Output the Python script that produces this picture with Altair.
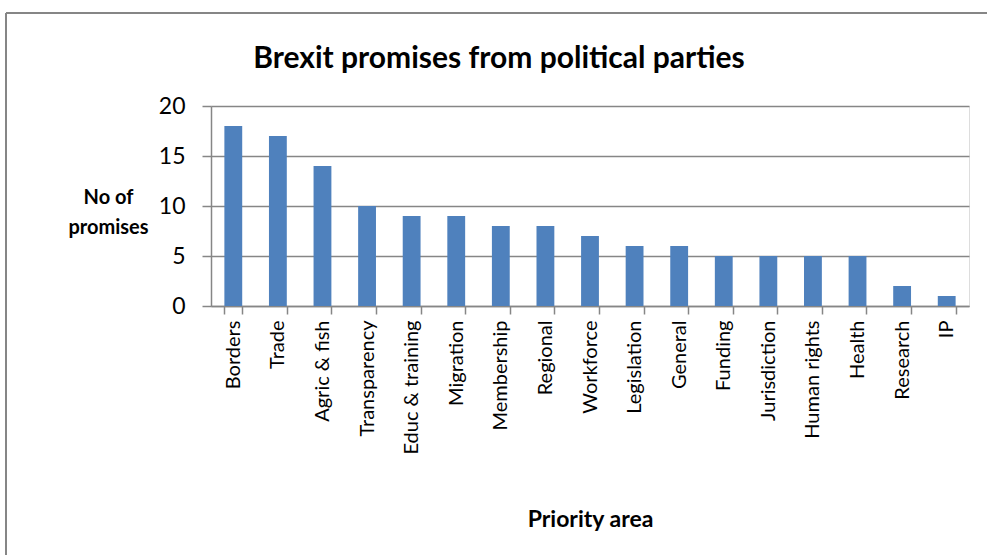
import altair as alt
import pandas as pd

title_text = ["Brexit promises from political parties"]
categories = ["Borders", "Trade", "Agric & fish", "Transparency", "Educ & training",
              "Migration", "Membership", "Regional", "Workforce", "Legislation",
              "General", "Funding", "Jurisdiction", "Human rights", "Health",
              "Research", "IP"]
promises = [18, 17, 14, 10, 9, 9, 8, 8, 7, 6, 6, 5, 5, 5, 5, 2, 1]

df = pd.DataFrame({"area": categories, "n": promises})
tdf = pd.DataFrame({"t": title_text})

FONT = "Lato"
GRAY = "#868686"

bars = alt.Chart(df).mark_bar(color="#4F81BD").encode(
    x=alt.X("area:N", sort=categories,
            scale=alt.Scale(paddingInner=0.6, paddingOuter=0.3),
            axis=alt.Axis(title="Priority area", labelAngle=-90, labelAlign="right",
                          labelBaseline="middle", labelFontSize=20, labelFont=FONT,
                          labelColor="#000000", labelPadding=6,
                          tickBand="extent", tickSize=8, tickColor=GRAY, tickWidth=1.5,
                          domainColor=GRAY, domainWidth=1.5,
                          titleFont=FONT, titleFontSize=23, titleFontWeight="bold",
                          titleColor="#000000", titleY=213, titleBaseline="middle")),
    y=alt.Y("n:Q", scale=alt.Scale(domain=[0, 20], nice=False),
            axis=alt.Axis(title=["No of", "promises"], values=[0, 5, 10, 15, 20],
                          labelFontSize=23, labelFont=FONT, labelColor="#000000",
                          labelPadding=17, tickSize=9, tickColor=GRAY, tickWidth=1.5,
                          domainColor=GRAY, domainWidth=1.5,
                          grid=True, gridColor=GRAY, gridWidth=1.5,
                          titleAngle=0, titleFont=FONT, titleFontSize=20,
                          titleFontWeight="bold", titleColor="#000000",
                          titleX=-103, titleY=91, titleAlign="center",
                          titleBaseline="middle", titleLineHeight=30)),
)

title = alt.Chart(tdf).mark_text(font=FONT, fontSize=30, fontWeight="bold",
                                 color="#000000", align="center",
                                 baseline="alphabetic").encode(
    text="t:N", x=alt.value(288), y=alt.value(-38))

border_top = alt.Chart(tdf).mark_rule(color=GRAY, strokeWidth=2).encode(
    x=alt.value(-205), x2=alt.value(800), y=alt.value(-93))
border_left = alt.Chart(tdf).mark_rule(color=GRAY, strokeWidth=2).encode(
    x=alt.value(-205), y=alt.value(-93), y2=alt.value(460))

chart = alt.layer(border_top, border_left, title, bars).properties(
    width=758, height=200,
    autosize=alt.AutoSizeParams(type="none"),
    padding={"left": 211, "top": 106, "right": 18, "bottom": 249},
).configure_view(strokeWidth=0).configure(background="white")

chart.save("out.html", embed_options={"renderer": "svg", "actions": False})
